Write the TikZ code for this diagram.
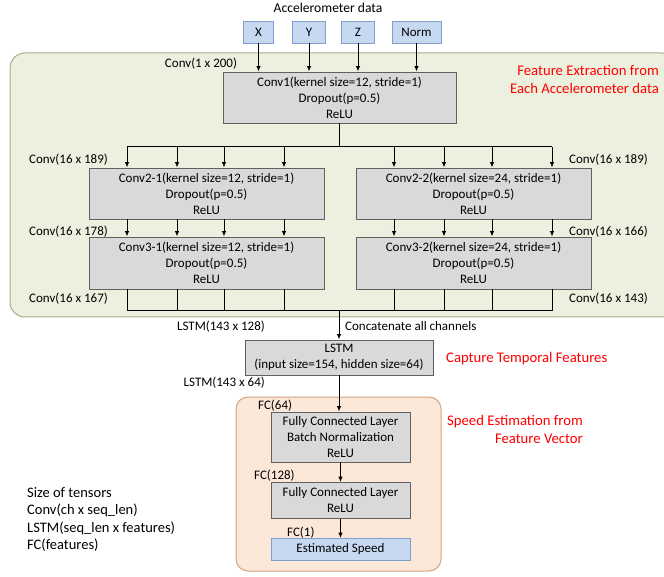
\documentclass[tikz,border=0pt]{standalone}
\usepackage{fontspec}
\setmainfont{Carlito}
\usetikzlibrary{arrows.meta,positioning}

\definecolor{greenfill}{HTML}{EBF1DE}
\definecolor{greenline}{HTML}{A3AE8C}
\definecolor{orangefill}{HTML}{FCE8D9}
\definecolor{orangeline}{HTML}{CFA584}
\definecolor{layerfill}{HTML}{D9D9D9}
\definecolor{layerline}{HTML}{606060}
\definecolor{inputfill}{HTML}{C6D9F1}
\definecolor{inputline}{HTML}{7F9FCF}

\tikzset{
  layer/.style={draw=layerline, fill=layerfill, line width=0.9pt, align=center, inner sep=0pt},
  inbox/.style={draw=inputline, fill=inputfill, line width=0.9pt, align=center, inner sep=0pt, minimum height=22pt},
  lbl/.style={inner sep=0pt},
  note/.style={inner sep=0pt, text=red, font=\fontsize{14.7}{17.5}\selectfont},
  arr/.style={-{Latex[length=5.5pt,width=4.5pt]}, line width=1pt},
  wire/.style={line width=1pt}
}

\begin{document}
\begin{tikzpicture}[x=1pt, y=-1pt, font=\fontsize{13}{16}\selectfont]

	\useasboundingbox (0,0) rectangle (664,577);
	\clip (0,0) rectangle (664,577);

	% regions
	\filldraw[fill=greenfill, draw=greenline, line width=1pt, rounded corners=15pt] (10,53) rectangle (676,317);
	\filldraw[fill=orangefill, draw=orangeline, line width=1pt, rounded corners=12pt] (236,397) rectangle (441,571);

	% inputs
	\node[lbl, font=\fontsize{13.6}{16}\selectfont] (acc) at (328,8) {Accelerometer data};
	\node[inbox, minimum width=30pt] (inX) at (258.5,32) {X};
	\node[inbox, minimum width=33pt] (inY) at (309,32) {Y};
	\node[inbox, minimum width=33pt] (inZ) at (358,32) {Z};
	\node[inbox, minimum width=49pt] (inN) at (416.5,32) {Norm};

	% conv layers
	\node[layer, minimum width=233pt, minimum height=51pt] (conv1) at (339.5,97.5)
		{Conv1(kernel size=12, stride=1)\\Dropout(p=0.5)\\ReLU};
	\node[layer, minimum width=235pt, minimum height=51pt] (conv21) at (206.5,193.5)
		{Conv2-1(kernel size=12, stride=1)\\Dropout(p=0.5)\\ReLU};
	\node[layer, minimum width=235pt, minimum height=51pt] (conv22) at (473.5,193.5)
		{Conv2-2(kernel size=24, stride=1)\\Dropout(p=0.5)\\ReLU};
	\node[layer, minimum width=235pt, minimum height=52pt] (conv31) at (206.5,263)
		{Conv3-1(kernel size=12, stride=1)\\Dropout(p=0.5)\\ReLU};
	\node[layer, minimum width=235pt, minimum height=52pt] (conv32) at (473.5,263)
		{Conv3-2(kernel size=24, stride=1)\\Dropout(p=0.5)\\ReLU};

	% lstm and fc
	\node[layer, minimum width=188pt, minimum height=35pt] (lstm) at (339,357.5)
		{LSTM\\(input size=154, hidden size=64)};
	\node[layer, minimum width=139pt, minimum height=50pt] (fc1) at (340.5,437)
		{Fully Connected Layer\\Batch Normalization\\ReLU};
	\node[layer, minimum width=139pt, minimum height=36pt] (fc2) at (340.5,500.5)
		{Fully Connected Layer\\ReLU};
	\node[inbox, minimum width=139pt] (speed) at (340.5,549.5) {Estimated Speed};

	% buses
	\foreach \x [count=\i] in {127,177,224,284,394,444,492,552} {
		\coordinate (t\i) at (\x,147);
		\coordinate (b\i) at (\x,311);
	}
	\draw[wire] (t1) -- (t8);
	\draw[wire] (b1) -- (b8);

	\foreach \n in {inX,inY,inZ,inN}
		\draw[arr] (\n) -- (\n |- conv1.north);
	\draw[wire] (conv1.south) -- (conv1.south |- t1);

	\foreach \i in {1,...,4} {
		\draw[arr] (t\i) -- (t\i |- conv21.north);
		\draw[arr] (t\i |- conv21.south) -- (t\i |- conv31.north);
		\draw[wire] (t\i |- conv31.south) -- (b\i);
	}
	\foreach \i in {5,...,8} {
		\draw[arr] (t\i) -- (t\i |- conv22.north);
		\draw[arr] (t\i |- conv22.south) -- (t\i |- conv32.north);
		\draw[wire] (t\i |- conv32.south) -- (b\i);
	}

	\draw[arr] (lstm.north |- b1) -- (lstm.north);
	\draw[arr] (lstm.south) -- (lstm.south |- fc1.north);
	\draw[arr] (fc1.south) -- (fc1.south |- fc2.north);
	\draw[arr] (fc2.south) -- (fc2.south |- speed.north);

	% sizes
	\node[lbl] (s1) at (201,64) {Conv(1 x 200)};
	\node[lbl, anchor=west] (s2) at (29,160) {Conv(16 x 189)};
	\node[lbl, anchor=east] (s3) at (648,160) {Conv(16 x 189)};
	\node[lbl, anchor=west] (s4) at (29,232) {Conv(16 x 178)};
	\node[lbl, anchor=east] (s5) at (648,232) {Conv(16 x 166)};
	\node[lbl, anchor=west] (s6) at (29,299) {Conv(16 x 167)};
	\node[lbl, anchor=east] (s7) at (648,299) {Conv(16 x 143)};
	\node[lbl, anchor=east] (s8) at (265,327) {LSTM(143 x 128)};
	\node[lbl, anchor=west] (cat) at (345,326) {Concatenate all channels};
	\node[lbl, anchor=east] (s9) at (265,383) {LSTM(143 x 64)};
	\node[lbl, anchor=west] (s10) at (258,406) {FC(64)};
	\node[lbl, anchor=west] (s11) at (254,476) {FC(128)};
	\node[lbl, anchor=west] (s12) at (287,533) {FC(1)};

	% notes
	\node[note, align=right, anchor=east] (n1) at (659,79.5) {Feature Extraction from\\Each Accelerometer data};
	\node[note, anchor=west] (n2) at (446,359) {Capture Temporal Features};
	\node[note, align=right, anchor=east] (n3) at (583,429.5) {Speed Estimation from\\Feature Vector};

	\node[lbl, align=left, anchor=north west, font=\fontsize{14.5}{17.5}\selectfont] (legend) at (27,487)
		{Size of tensors\\Conv(ch x seq\_len)\\LSTM(seq\_len x features)\\FC(features)};

\end{tikzpicture}
\end{document}
